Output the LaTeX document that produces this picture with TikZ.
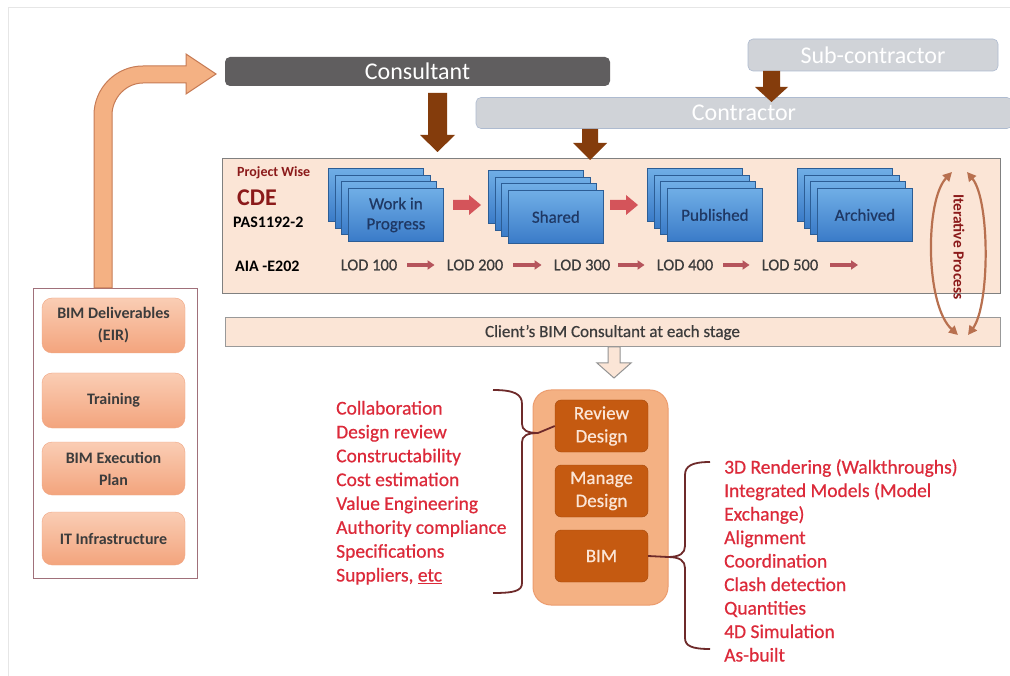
\documentclass[tikz,border=0pt]{standalone}
\usepackage{fontspec}
\setmainfont{Carlito}
\newfontfamily\semib[FakeBold=0.6]{Carlito}
\usetikzlibrary{arrows.meta}
\definecolor{peach}{HTML}{FBE5D6}
\definecolor{salmon}{HTML}{F4B183}
\definecolor{salmonedge}{HTML}{EC9C6E}
\definecolor{rust}{HTML}{C55A11}
\definecolor{rustedge}{HTML}{A34A0E}
\definecolor{brownarrow}{HTML}{843C0C}
\definecolor{darkbar}{HTML}{605E5F}
\definecolor{lightbar}{HTML}{D0D3D8}
\definecolor{lightbaredge}{HTML}{AEBBD0}
\definecolor{listred}{HTML}{DC2A3A}
\definecolor{darkred}{HTML}{8B1A1A}
\definecolor{navy}{HTML}{1F3864}
\definecolor{blueT}{HTML}{70AEE6}
\definecolor{blueB}{HTML}{3A7BC8}
\definecolor{blueE}{HTML}{2C5D95}
\definecolor{lodred}{HTML}{B5545C}
\definecolor{blockred}{HTML}{D4545A}
\definecolor{txtgray}{HTML}{3C3C3C}
\definecolor{mauve}{HTML}{A0707A}
\definecolor{boxT}{HTML}{FACDB4}
\definecolor{boxB}{HTML}{F3A47D}
\definecolor{boxedge}{HTML}{F0A582}
\definecolor{iter}{HTML}{B8704F}
\definecolor{bracec}{HTML}{6E2A2A}
\definecolor{curvefill}{HTML}{F4B183}
\definecolor{curveedge}{HTML}{C77C56}
\definecolor{framec}{HTML}{E6E6E6}
\newcommand\stackbox[4]{%
  \foreach \k in {3,2,1}{\node[bluebox, anchor=north west] at ({#1-6.67*\k},{#2-6.67*\k}) {};}
  \node[bluebox, anchor=north west] (#3) at (#1,#2) {#4};}
\begin{document}
\begin{tikzpicture}[x=1pt,y=-1pt,
  bar/.style={rounded corners=5, text=white, font=\fontsize{24}{28}\selectfont, inner sep=0},
  brownblk/.style={fill=brownarrow, draw=none},
  bluebox/.style={draw=blueE, line width=0.8, top color=blueT, bottom color=blueB, minimum width=95, minimum height=53, inner sep=0, align=center, text=navy, font=\semib\fontsize{17}{20}\selectfont},
  redblk/.style={fill=blockred, draw=none},
  lod/.style={font=\semib\fontsize{16.5}{18}\selectfont, text=txtgray, inner sep=2},
  lodarr/.style={draw=lodred, line width=3.5, -{Triangle[length=7pt,width=9pt]}},
  lbl/.style={font=\bfseries\fontsize{16}{18}\selectfont, text=black, inner sep=0, anchor=west},
  sidebox/.style={rounded corners=10, draw=boxedge, top color=boxT, bottom color=boxB, minimum width=143, inner sep=0, align=center, text=txtgray, font=\bfseries\fontsize{16}{22}\selectfont},
  innerbox/.style={rounded corners=6, draw=rustedge, fill=rust, minimum width=93, minimum height=52, inner sep=0, align=center, text=peach, font=\semib\fontsize{19}{23}\selectfont},
  listtxt/.style={text=listred, font=\semib\fontsize{19.5}{22}\selectfont, inner sep=0, anchor=base west},
  bracel/.style={draw=bracec, line width=1.8},
  iterarr/.style={draw=iter, line width=2.2, {Triangle[length=9pt,width=9pt]}-{Triangle[length=9pt,width=9pt]}}
]
\useasboundingbox (0,0) rectangle (1010,676);
\clip (0,0) rectangle (1010,676);
\fill[white] (0,0) rectangle (1010,676);
\draw[framec, line width=1] (8,676) -- (8,8) -- (1010,8);

% top bars
\node[bar, fill=darkbar, minimum width=385, minimum height=29] (cons) at (417.5,71.5) {Consultant};
\node[bar, fill=lightbar, draw=lightbaredge, line width=0.6, minimum width=250, minimum height=32] (sub) at (873,55) {Sub-contractor};
\node[bar, fill=lightbar, draw=lightbaredge, line width=0.6, minimum width=536, minimum height=31] (contr) at (744,113) {Contractor};

% CDE box
\node[draw=gray, line width=1.2, fill=peach, minimum width=778, minimum height=135, inner sep=0, anchor=north west] (cde) at (222,158) {};

% brown block arrows
\path[brownblk] (428,93)--(447,93)--(447,135)--(455,135)--(437.5,152)--(420,135)--(428,135)--cycle;
\path[brownblk] (582,129)--(598,129)--(598,143)--(607,143)--(590,160)--(573,143)--(582,143)--cycle;
\path[brownblk] (763,71)--(780,71)--(780,87)--(788,87)--(771.5,102)--(755,87)--(763,87)--cycle;

% labels in CDE
\node[lbl, text=darkred, font=\bfseries\fontsize{14}{16}\selectfont] (pw) at (237,173) {Project Wise};
\node[lbl, text=darkred, font=\bfseries\fontsize{24}{26}\selectfont] (cdet) at (237,198) {CDE};
\node[lbl] (pas) at (233,222) {PAS1192-2};
\node[lbl] (aia) at (235,266) {AIA -E202};

% stacks
\stackbox{348}{188}{wip}{Work in\\Progress}
\stackbox{508}{190}{shared}{Shared}
\stackbox{667}{188}{pub}{Published}
\stackbox{817}{188}{arch}{Archived}

% red block arrows
\path[redblk] (453,200)--(469,200)--(469,195)--(481,205)--(469,215)--(469,210)--(453,210)--cycle;
\path[redblk] (610,200)--(626,200)--(626,195)--(638,205)--(626,215)--(626,210)--(610,210)--cycle;

% LOD row
\node[lod] (l1) at (369,265) {LOD 100};
\node[lod] (l2) at (475,265) {LOD 200};
\node[lod] (l3) at (582,265) {LOD 300};
\node[lod] (l4) at (685,265) {LOD 400};
\node[lod] (l5) at (790,265) {LOD 500};
\coordinate (lend) at (858,265);
\draw[lodarr] ([xshift=8]l1.east) -- ([xshift=-10]l2.west);
\draw[lodarr] ([xshift=8]l2.east) -- ([xshift=-10]l3.west);
\draw[lodarr] ([xshift=6]l3.east) -- ([xshift=-10]l4.west);
\draw[lodarr] ([xshift=8]l4.east) -- ([xshift=-10]l5.west);
\draw[lodarr] ([xshift=10]l5.east) -- (lend);

% client bar
\node[draw=gray!80, line width=1, fill=peach, minimum width=775, minimum height=29, inner sep=0, text=txtgray, font=\semib\fontsize{17}{19}\selectfont] (client) at (612.5,332.5) {Client’s BIM Consultant at each stage};

% iterative process
\coordinate (itl1) at (952,172); \coordinate (itl2) at (958,335);
\coordinate (itr1) at (967,172); \coordinate (itr2) at (968,335);
\draw[iterarr] (itl1) .. controls (925,200) and (925,305) .. (itl2);
\draw[iterarr] (itr1) .. controls (990,200) and (990,305) .. (itr2);
\node[rotate=-90, text=darkred, font=\bfseries\fontsize{15.5}{17}\selectfont, inner sep=0] (iterp) at (959,247) {Iterative Process};

% hollow arrow
\path[fill=peach, draw=gray!85, line width=1] (608,347)--(620,347)--(620,363)--(631,363)--(614,378)--(597,363)--(608,363)--cycle;

% center box
\node[rounded corners=18, fill=salmon, draw=salmonedge, line width=1, minimum width=135, minimum height=215, inner sep=0] (cbox) at (600.5,497.5) {};
\node[innerbox] (rev) at (601.5,426) {Review\\Design};
\node[innerbox] (man) at (601.5,491) {Manage\\Design};
\node[innerbox] (bim) at (601.5,556) {BIM};

% left brace
\coordinate (lbtip) at (538,433);
\draw[bracel] (493,390) .. controls (514,390) and (522,394) .. (522,404) -- (522,424) .. controls (522,430) and (527,433) .. (lbtip)
  .. controls (527,433) and (522,436) .. (522,442) -- (522,583) .. controls (522,591) and (514,593) .. (493,593);
\draw[bracel] (lbtip) -- (rev.west);

% right brace
\coordinate (rbtip) at (668,557);
\draw[bracel] (710,462) .. controls (692,462) and (685,466) .. (685,475) -- (685,546) .. controls (685,553) and (680,557) .. (rbtip)
  .. controls (680,557) and (685,561) .. (685,568) -- (685,638) .. controls (685,646) and (692,649) .. (710,649);
\draw[bracel] (bim.east) -- (rbtip);

% left list
\foreach \t [count=\i from 0] in {Collaboration, Design review, Constructability, Cost estimation, Value Engineering, Authority compliance, Specifications, {Suppliers, \underline{etc}}}
  \node[listtxt] (ll\i) at (336,{414.5+\i*23.86}) {\t};

% right list
\foreach \t [count=\i from 0] in {3D Rendering (Walkthroughs), Integrated Models (Model, Exchange), Alignment, Coordination, Clash detection, Quantities, 4D Simulation, As-built}
  \node[listtxt] (rl\i) at (724,{473.5+\i*23.5}) {\t};

% left panel
\node[draw=mauve, line width=1.2, fill=white, minimum width=164, minimum height=290, inner sep=0, anchor=north west] (lpanel) at (33,288) {};
\node[sidebox, minimum height=55] (eir) at (113.5,325.5) {BIM Deliverables\\(EIR)};
\node[sidebox, minimum height=55] (train) at (113.5,400.5) {Training};
\node[sidebox, minimum height=53] (bep) at (113.5,468.5) {BIM Execution\\Plan};
\node[sidebox, minimum height=53] (itinf) at (113.5,538.5) {IT Infrastructure};

% curved arrow
\path[fill=curvefill, draw=curveedge, line width=1] (94,288) -- (94,115) .. controls (94,88) and (116,66) .. (143,66) -- (186,66) -- (186,54) -- (216,74) -- (186,94) -- (186,83) -- (143,83) .. controls (126,83) and (112,98) .. (112,115) -- (112,288) -- cycle;
\end{tikzpicture}
\end{document}
